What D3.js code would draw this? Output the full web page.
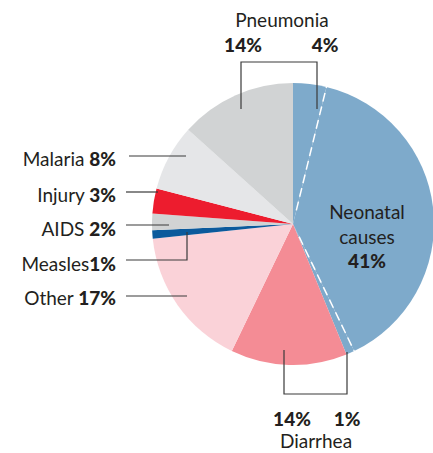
<!DOCTYPE html>
<html>
<head>
<meta charset="utf-8">
<script src="https://cdn.jsdelivr.net/npm/d3@7"></script>
<style>
  body { margin: 0; background: #fff; }
  text { font-family: Lato, "Open Sans", sans-serif; fill: #231f20; font-size: 19px; }
  .num { font-weight: 900; }
</style>
</head>
<body>
<div id="chart"></div>
<script>
// chart data, clockwise from 12 o'clock
var causes = ["Neonatal (pneumonia)", "Neonatal", "Neonatal (diarrhea)", "Diarrhea", "Other",
              "Measles", "AIDS", "Injury", "Malaria", "Pneumonia"];
var shares = [4, 41, 1, 14, 17, 1, 2, 3, 8, 14];
var colors = ["#7eaacb", "#7eaacb", "#7eaacb", "#f48c95", "#fad2d8",
              "#0b5a9c", "#d1d3d4", "#ed1c2e", "#e5e6e8", "#d1d3d4"];

// left side labels
var leftNames = ["Malaria", "Injury", "AIDS", "Measles", "Other"];
var leftPcts = ["8%", "3%", "2%", "1%", "17%"];

var svgWidth = 433;
var svgHeight = 453;
var cx = 293, cy = 224, radius = 141;

var svg = d3.select("#chart")
  .append("svg")
  .attr("width", svgWidth)
  .attr("height", svgHeight);

var pieGroup = svg.append("g")
  .attr("transform", `translate(${cx}, ${cy})`);

var pie = d3.pie().sort(null).value(d => d);
var arcs = pie(shares);
var arc = d3.arc().innerRadius(0).outerRadius(radius);

pieGroup.selectAll("path")
  .data(arcs)
  .enter()
  .append("path")
  .attr("d", arc)
  .attr("fill", (d, i) => colors[i]);

// dashed white dividers inside the neonatal block
[arcs[0].endAngle, arcs[1].endAngle].forEach(function(a) {
  pieGroup.append("line")
    .attr("x1", Math.sin(a) * 14)
    .attr("y1", -Math.cos(a) * 14)
    .attr("x2", Math.sin(a) * radius)
    .attr("y2", -Math.cos(a) * radius)
    .attr("stroke", "#fff")
    .attr("stroke-width", 1.5)
    .attr("stroke-dasharray", "9,5");
});

var lineColor = "#3a3a3a";
function path(pts) {
  svg.append("path")
    .attr("d", d3.line()(pts))
    .attr("fill", "none")
    .attr("stroke", lineColor)
    .attr("stroke-width", 1.2);
}

// neonatal label
var nl = svg.append("text")
  .attr("text-anchor", "middle");
nl.append("tspan").attr("x", 367).attr("y", 219).text("Neonatal");
nl.append("tspan").attr("x", 367).attr("y", 244).text("causes");
nl.append("tspan").attr("x", 367).attr("y", 268).attr("class", "num").text(shares[1] + "%");

// pneumonia bracket
svg.append("text").attr("x", 282).attr("y", 27).attr("text-anchor", "middle")
  .text("Pneumonia");
svg.append("text").attr("x", 243).attr("y", 52).attr("text-anchor", "middle")
  .attr("class", "num").text(shares[9] + "%");
svg.append("text").attr("x", 325).attr("y", 52).attr("text-anchor", "middle")
  .attr("class", "num").text(shares[0] + "%");
path([[241, 109], [241, 62], [317, 62], [317, 109]]);

// diarrhea bracket
path([[284, 350], [284, 394], [347, 394], [347, 352]]);
svg.append("text").attr("x", 292).attr("y", 426).attr("text-anchor", "middle")
  .attr("class", "num").text(shares[3] + "%");
svg.append("text").attr("x", 347).attr("y", 426).attr("text-anchor", "middle")
  .attr("class", "num").text(shares[2] + "%");
svg.append("text").attr("x", 316).attr("y", 448).attr("text-anchor", "middle")
  .text("Diarrhea");

// left labels
var leftY = [166, 202, 236, 271, 305];
leftNames.forEach(function(name, i) {
  var t = svg.append("text")
    .attr("x", 116)
    .attr("y", leftY[i])
    .attr("text-anchor", "end");
  t.append("tspan").text(name + (name === "Measles" ? "" : " "));
  t.append("tspan").attr("class", "num").text(leftPcts[i]);
});
path([[129, 156], [186, 156]]);
path([[126, 192], [158, 192]]);
path([[126, 225], [169, 225]]);
path([[126, 260], [187, 260], [187, 232]]);
path([[126, 296], [187, 296]]);
</script>
</body>
</html>
